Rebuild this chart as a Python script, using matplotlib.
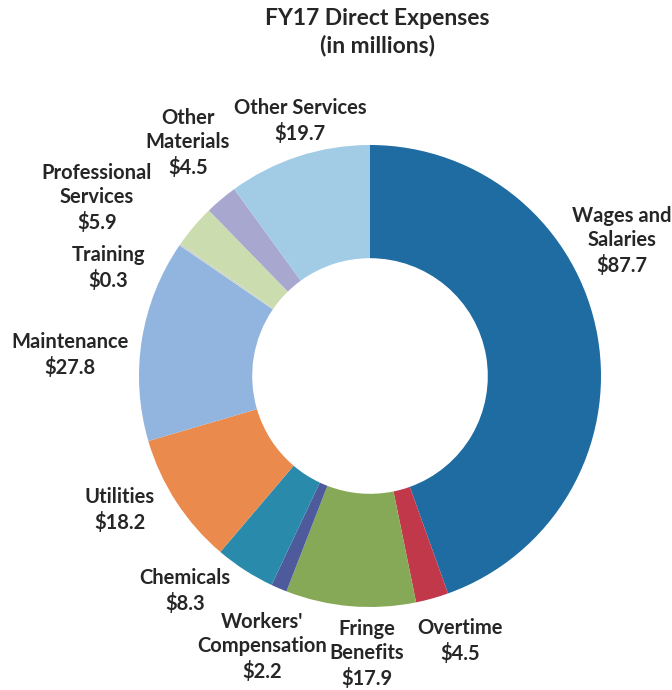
import matplotlib.pyplot as plt

plt.rcParams["font.family"] = ["Lato", "DejaVu Sans"]

# FY17 direct expenses, $ millions, in clockwise order from 12 o'clock
categories = [
    "Wages and\nSalaries", "Overtime", "Fringe\nBenefits", "Workers'\nCompensation",
    "Chemicals", "Utilities", "Maintenance", "Training", "Professional\nServices",
    "Other\nMaterials", "Other Services",
]
expenses = [87.7, 4.5, 17.9, 2.2, 8.3, 18.2, 27.8, 0.3, 5.9, 4.5, 19.7]

colors = [
    "#1f6ca2", "#c0384a", "#86a957", "#4d5b9c", "#2a8aac", "#ea8a4c",
    "#91b5df", "#c9d3c8", "#cbdcae", "#a7a7cf", "#a2cce6",
]

# label anchor points in pixels (x from left, y from top)
label_px = [
    (622, 241), (460, 641), (367, 654), (262, 647), (185, 591), (120, 510),
    (70, 355), (108, 268), (97, 198), (188, 143), (300, 121),
]

W, H = 672, 690
CX, CY, R = 370, 376, 231

fig = plt.figure(figsize=(W / 100, H / 100), dpi=100)
ax = fig.add_axes([(CX - R) / W, (H - CY - R) / H, 2 * R / W, 2 * R / H])
ax.pie(expenses, colors=colors, startangle=90, counterclock=False, radius=1.0,
       wedgeprops=dict(width=0.49, linewidth=0))
ax.set_xlim(-1, 1)
ax.set_ylim(-1, 1)
ax.set_aspect("equal")
ax.axis("off")

for name, val, (px, py) in zip(categories, expenses, label_px):
    fig.text(px / W, 1 - py / H, f"{name}\n${val:.1f}", ha="center", va="center",
             fontsize=14.5, fontweight="bold", color="#262626", linespacing=1.28)

fig.text(377 / W, 1 - 32 / H, "FY17 Direct Expenses\n(in millions)", ha="center",
         va="center", fontsize=16.5, fontweight="bold", color="#262626", linespacing=1.3)

fig.savefig("out.png", dpi=100, facecolor="white")
